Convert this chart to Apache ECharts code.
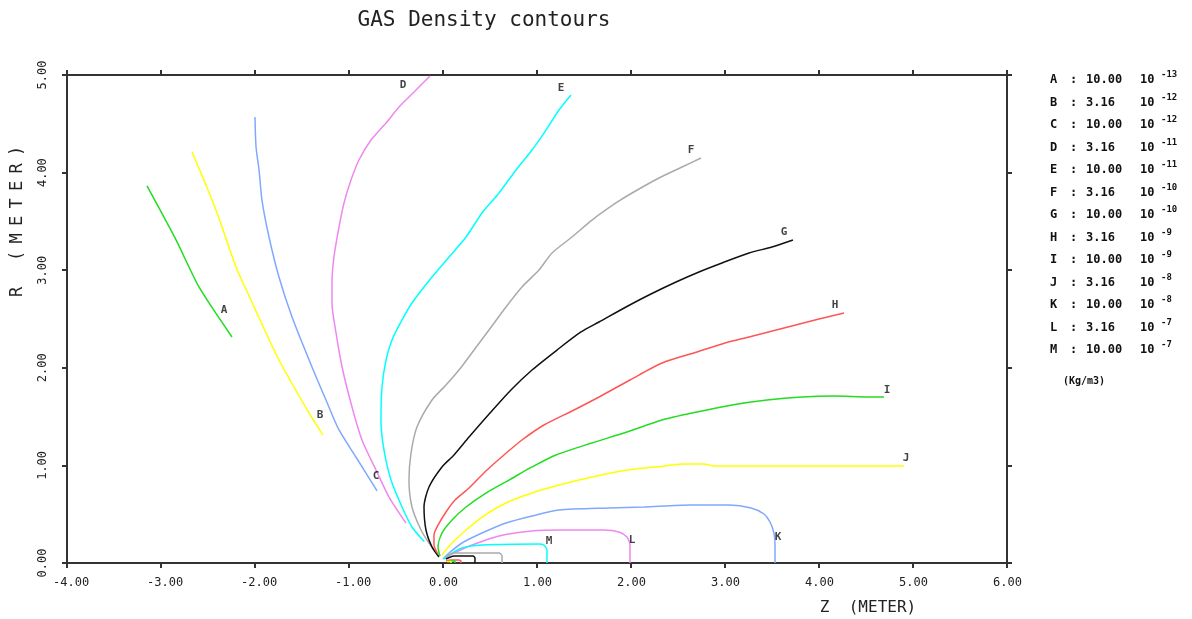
<!DOCTYPE html>
<html><head><meta charset="utf-8">
<script src="https://cdn.jsdelivr.net/npm/echarts@6/dist/echarts.min.js"></script>
<style>html,body{margin:0;padding:0;background:#fff}#c{width:1192px;height:619px}</style>
</head><body><div id="c"></div>
<script>
// ---- data (Z, R in meters) ----
const curveA = [[-3.149,3.863],[-2.84,3.31],[-2.596,2.828],[-2.245,2.316]];
const curveB = [[-2.670,4.211],[-2.415,3.617],[-2.202,3.033],[-2.043,2.695],[-1.883,2.357],[-1.745,2.080],[-1.426,1.537],[-1.277,1.311]];
const curveC = [[-2.000,4.570],[-1.989,4.262],[-1.957,4.027],[-1.926,3.719],[-1.851,3.340],[-1.745,2.930],[-1.606,2.520],[-1.394,2.008],[-1.245,1.670],[-1.106,1.363],[-0.926,1.086],[-0.702,0.738]];
const curveD = [[-0.138,4.990],[-0.287,4.846],[-0.468,4.672],[-0.606,4.508],[-0.766,4.334],[-0.894,4.129],[-0.979,3.924],[-1.053,3.689],[-1.106,3.443],[-1.160,3.135],[-1.181,2.869],[-1.181,2.664],[-1.138,2.357],[-1.074,2.008],[-0.968,1.598],[-0.862,1.260],[-0.713,0.953],[-0.574,0.676],[-0.394,0.410]];
const curveE = [[1.362,4.795],[1.234,4.641],[1.096,4.436],[0.947,4.232],[0.777,4.027],[0.596,3.791],[0.415,3.586],[0.245,3.340],[0.064,3.135],[-0.117,2.930],[-0.330,2.664],[-0.436,2.490],[-0.543,2.285],[-0.606,2.080],[-0.649,1.803],[-0.660,1.465],[-0.628,1.158],[-0.553,0.850],[-0.436,0.574],[-0.330,0.369],[-0.200,0.220]];
const curveF = [[2.745,4.150],[2.543,4.057],[2.298,3.945],[2.011,3.791],[1.840,3.689],[1.585,3.514],[1.372,3.340],[1.160,3.176],[1.021,3.002],[0.840,2.828],[0.670,2.623],[0.489,2.387],[0.330,2.182],[0.170,1.977],[0.032,1.824],[-0.117,1.670],[-0.277,1.393],[-0.340,1.127],[-0.362,0.850],[-0.330,0.574],[-0.234,0.338],[-0.149,0.205],[-0.043,0.072]];
const curveG = [[3.723,3.309],[3.500,3.238],[3.255,3.176],[2.968,3.074],[2.723,2.982],[2.479,2.879],[2.191,2.746],[1.947,2.623],[1.660,2.469],[1.468,2.367],[1.213,2.182],[0.947,1.977],[0.723,1.773],[0.500,1.537],[0.277,1.291],[0.117,1.107],[-0.011,0.984],[-0.149,0.779],[-0.202,0.574],[-0.181,0.338],[-0.117,0.164],[-0.043,0.061]];
const curveH = [[4.266,2.561],[4.000,2.500],[3.628,2.408],[3.255,2.316],[3.000,2.254],[2.702,2.162],[2.330,2.049],[1.989,1.875],[1.660,1.701],[1.394,1.568],[1.074,1.414],[0.840,1.260],[0.649,1.107],[0.468,0.953],[0.277,0.768],[0.128,0.645],[0.032,0.523],[-0.053,0.389],[-0.096,0.287],[-0.096,0.184],[-0.053,0.092]];
const curveI = [[4.691,1.701],[4.532,1.701],[4.160,1.711],[3.819,1.701],[3.447,1.670],[3.074,1.619],[2.702,1.547],[2.330,1.465],[1.957,1.342],[1.585,1.230],[1.202,1.107],[0.947,0.984],[0.702,0.850],[0.457,0.717],[0.245,0.574],[0.096,0.441],[-0.011,0.307],[-0.053,0.164],[-0.032,0.072]];
const curveJ = [[4.904,0.994],[3.787,0.994],[2.883,0.994],[2.777,1.014],[2.564,1.014],[2.362,0.994],[1.957,0.953],[1.585,0.881],[1.234,0.799],[0.947,0.717],[0.670,0.615],[0.415,0.471],[0.245,0.338],[0.096,0.205],[-0.011,0.082]];
const curveK = [[3.532,0],[3.532,0.184],[3.521,0.307],[3.479,0.420],[3.415,0.502],[3.277,0.564],[3.043,0.594],[2.628,0.594],[2.138,0.574],[1.766,0.564],[1.234,0.543],[0.947,0.482],[0.670,0.410],[0.415,0.307],[0.202,0.205],[0.064,0.102],[0.0,0.041]];
const curveL = [[1.989,0],[1.989,0.184],[1.957,0.266],[1.872,0.318],[1.713,0.338],[1.234,0.338],[0.947,0.328],[0.596,0.277],[0.309,0.184],[0.138,0.113],[0.032,0.061]];
const curveM = [[1.106,0],[1.106,0.133],[1.074,0.184],[1.021,0.195],[0.415,0.184],[0.202,0.154],[0.064,0.082],[0.011,0.041]];
const curveN = [[0.628,0],[0.628,0.072],[0.596,0.102],[0.117,0.102],[0.032,0.061]];
const curveO = [[0.340,0],[0.340,0.051],[0.319,0.072],[0.117,0.072],[0.032,0.041]];
const curveP = [[0.191,0],[0.191,0.020],[0.170,0.031],[0.085,0.031],[0.032,0.020]];
const curveQ = [[0.128,0],[0.128,0.020],[0.064,0.020]];
const curveS = [[0.085,0],[0.085,0.015],[0.040,0.015]];

const contours = [curveA,curveB,curveC,curveD,curveE,curveF,curveG,curveH,curveI,curveJ,curveK,curveL,curveM,curveN,curveO,curveP,curveQ,curveS];

// curve label letters and their positions (Z, R)
const labelLetters = ['A','B','C','D','E','F','G','H','I','J','K','L','M'];
const labelPos = [[-2.330,2.592],[-1.309,1.516],[-0.713,0.891],[-0.426,4.898],[1.255,4.867],[2.638,4.232],[3.628,3.391],[4.170,2.643],[4.723,1.773],[4.926,1.076],[3.564,0.266],[2.011,0.236],[1.128,0.225]];

// legend values: mantissa x 10^exponent (Kg/m3)
const legendMantissa = ['10.00','3.16','10.00','3.16','10.00','3.16','10.00','3.16','10.00','3.16','10.00','3.16','10.00'];
const legendExponent = ['-13','-12','-12','-11','-11','-10','-10','-9','-9','-8','-8','-7','-7'];

const xTicks = [-4,6,1];  // min, max, interval
const yTicks = [0,5,1];

const palette = ['#22dd22','#ffff00','#80a8ff','#ee88ee','#00ffff','#aaaaaa','#111111','#ff5555'];
const MONO = '"DejaVu Sans Mono", "Liberation Mono", monospace';

const chart = echarts.init(document.getElementById('c'));
const axisLineStyle = {color:'#333', width:2};

const series = contours.map((d,i)=>({
  type:'line', data:d, showSymbol:false, smooth:0.25, silent:true,
  lineStyle:{color:palette[i%palette.length], width:1.5},
  xAxisIndex:0, yAxisIndex:0, z:2
}));
series.push({
  type:'scatter', symbolSize:0, silent:true, xAxisIndex:0, yAxisIndex:0,
  data: labelPos.map((p,i)=>({value:p, name:labelLetters[i]})),
  label:{show:true, position:'inside', formatter:p=>p.name, fontFamily:MONO, fontSize:11, fontWeight:'bold', color:'#111'}
});

const graphic = [];
graphic.push({type:'text', x:484, y:21, style:{text:'GAS Density contours', font:'21px '+MONO, fill:'#222', textAlign:'center', textVerticalAlign:'middle'}});
graphic.push({type:'text', x:868, y:608, style:{text:'Z  (METER)', font:'16px '+MONO, fill:'#222', textAlign:'center', textVerticalAlign:'middle'}});
// y axis name, drawn letter by letter (bottom to top) to match the spaced lettering
const yNameChars = ['R','(','M','E','T','E','R',')'];
const yNameCenters = [292,256,238.5,221,203.5,186,168.5,151];
yNameChars.forEach((ch,i)=>{
  graphic.push({type:'text', x:18, y:yNameCenters[i], rotation:Math.PI/2, style:{text:ch, font:'17px '+MONO, fill:'#222', textAlign:'center', textVerticalAlign:'middle'}});
});
labelLetters.forEach((l,i)=>{
  const y = 80 + i*22.5;
  const f = 'bold 12px '+MONO;
  graphic.push({type:'text', x:1050, y:y, style:{text:l, font:f, fill:'#111', textVerticalAlign:'middle'}});
  graphic.push({type:'text', x:1070, y:y, style:{text:':', font:f, fill:'#111', textVerticalAlign:'middle'}});
  graphic.push({type:'text', x:1086, y:y, style:{text:legendMantissa[i], font:f, fill:'#111', textVerticalAlign:'middle'}});
  graphic.push({type:'text', x:1140, y:y, style:{text:'10', font:f, fill:'#111', textVerticalAlign:'middle'}});
  graphic.push({type:'text', x:1161, y:y-5, style:{text:legendExponent[i], font:'bold 9px '+MONO, fill:'#111', textVerticalAlign:'middle'}});
});
graphic.push({type:'text', x:1063, y:381, style:{text:'(Kg/m3)', font:'bold 10px '+MONO, fill:'#111', textVerticalAlign:'middle'}});

chart.setOption({
  backgroundColor:'#fff',
  animation:false,
  grid:{left:67, right:185, top:75, bottom:56},
  xAxis:[
    {type:'value', min:xTicks[0], max:xTicks[1], interval:xTicks[2], position:'bottom',
     axisLine:{onZero:false, lineStyle:axisLineStyle}, axisTick:{length:5, lineStyle:axisLineStyle},
     splitLine:{show:false},
     axisLabel:{margin:14, formatter:v=>'{a|'+v.toFixed(2)+'}', rich:{a:{width:28, align:'left', fontFamily:MONO, fontSize:12, color:'#222'}}}},
    {type:'value', min:xTicks[0], max:xTicks[1], interval:xTicks[2], position:'top',
     axisLine:{onZero:false, lineStyle:axisLineStyle}, axisTick:{length:5, lineStyle:axisLineStyle},
     splitLine:{show:false}, axisLabel:{show:false}}
  ],
  yAxis:[
    {type:'value', min:yTicks[0], max:yTicks[1], interval:yTicks[2], position:'left',
     axisLine:{show:true, onZero:false, lineStyle:axisLineStyle}, axisTick:{show:true, length:5, lineStyle:axisLineStyle},
     splitLine:{show:false},
     axisLabel:{rotate:90, margin:18, formatter:v=>v.toFixed(2), fontFamily:MONO, fontSize:12, color:'#222'}},
    {type:'value', min:yTicks[0], max:yTicks[1], interval:yTicks[2], position:'right',
     axisLine:{show:true, onZero:false, lineStyle:axisLineStyle}, axisTick:{show:true, length:5, lineStyle:axisLineStyle},
     splitLine:{show:false}, axisLabel:{show:false}}
  ],
  series:series,
  graphic:graphic
});
</script></body></html>
